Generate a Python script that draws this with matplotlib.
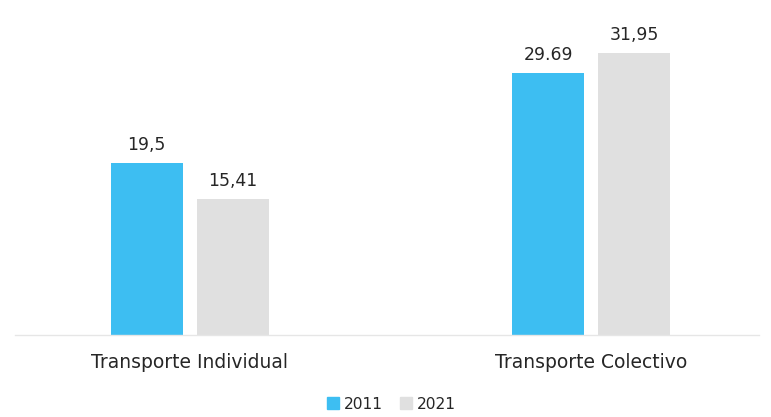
import matplotlib
matplotlib.use("Agg")
import matplotlib.pyplot as plt
from matplotlib.patches import Patch
import numpy as np

categories = ["Transporte Individual", "Transporte Colectivo"]
series_names = ["2011", "2021"]
values_2011 = [19.5, 29.69]
values_2021 = [15.41, 31.95]
value_labels_2011 = ["19,5", "29.69"]
value_labels_2021 = ["15,41", "31,95"]

colors = ["#3dbef2", "#e0e0e0"]
text_color = "#262626"

plt.rcParams["font.family"] = ["DejaVu Sans"]

fig = plt.figure(figsize=(7.71, 4.17), dpi=100)
ax = fig.add_axes([0.02, 0.1966, 0.965, 0.7617])

x = np.arange(len(categories))
w = 0.179
off = 0.107
b1 = ax.bar(x - off, values_2011, w, color=colors[0])
b2 = ax.bar(x + off, values_2021, w, color=colors[1])

for bars, labels in ((b1, value_labels_2011), (b2, value_labels_2021)):
    for bar, lab in zip(bars, labels):
        ax.annotate(lab, (bar.get_x() + bar.get_width() / 2, bar.get_height()),
                    xytext=(0, 9.5), textcoords="offset points",
                    ha="center", va="baseline", fontsize=12.4, color=text_color)

ax.set_xlim(-0.434, 1.419)
ax.set_ylim(0, 36.0)
ax.set_xticks(x)
ax.set_xticklabels(categories, fontsize=13.5, color=text_color)
ax.tick_params(axis="x", length=0, pad=13)
ax.set_yticks([])
for s in ("top", "right", "left"):
    ax.spines[s].set_visible(False)
ax.spines["bottom"].set_color("#e6e6e6")
ax.spines["bottom"].set_linewidth(1.0)

handles = [Patch(color=c, label=n) for c, n in zip(colors, series_names)]
fig.legend(handles=handles, loc="center", bbox_to_anchor=(0.508, 0.031), ncol=2,
           frameon=False, fontsize=11.2, handlelength=0.75, handleheight=0.75,
           handletextpad=0.35, columnspacing=1.1, labelcolor=text_color)

fig.savefig("out.png", dpi=100, facecolor="white")
